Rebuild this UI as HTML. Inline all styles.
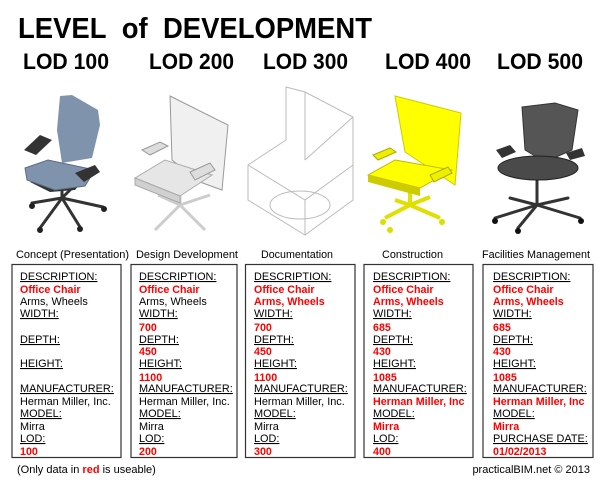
<!DOCTYPE html>
<html><head><meta charset="utf-8"><style>
body{margin:0;background:#fff;}
svg{display:block;font-family:"Liberation Sans",Arial,sans-serif;}
.lb{font-size:10.9px;fill:#000;text-decoration:underline;}
.bk{font-size:10.9px;fill:#000;}
.rd{font-size:10.7px;fill:#f00;font-weight:bold;}
.cap{font-size:11px;fill:#000;}
.h{font-size:22px;font-weight:bold;fill:#000;}
</style></head><body>
<svg width="605" height="483" viewBox="0 0 605 483">
<rect width="605" height="483" fill="#fff"/>
<text x="18" y="38" font-size="29" font-weight="bold" textLength="354" lengthAdjust="spacingAndGlyphs">LEVEL&#160;&#160;of&#160;&#160;DEVELOPMENT</text>
<text class="h" x="23" y="69" textLength="86" lengthAdjust="spacingAndGlyphs">LOD 100</text>
<text class="h" x="149" y="69" textLength="85" lengthAdjust="spacingAndGlyphs">LOD 200</text>
<text class="h" x="263" y="69" textLength="85" lengthAdjust="spacingAndGlyphs">LOD 300</text>
<text class="h" x="385" y="69" textLength="86" lengthAdjust="spacingAndGlyphs">LOD 400</text>
<text class="h" x="497" y="69" textLength="86" lengthAdjust="spacingAndGlyphs">LOD 500</text>

<!-- chair 1 -->
<g>
<g stroke="#333" stroke-width="3" stroke-linecap="round">
<line x1="62" y1="198" x2="32" y2="203"/><line x1="62" y1="198" x2="40" y2="228"/><line x1="62" y1="198" x2="80" y2="227"/><line x1="62" y1="198" x2="103" y2="207"/><line x1="62" y1="198" x2="72" y2="188"/><line x1="62" y1="198" x2="62" y2="182"/></g>
<g fill="#222"><circle cx="32" cy="206" r="3"/><circle cx="40" cy="230" r="3"/><circle cx="80" cy="229" r="3"/><circle cx="104" cy="209" r="3"/></g>
<path d="M60,96 L72,95 L98,110 L100,125 L92,158 L62,163 L57,130 Z" fill="#7f93ad"/>
<path d="M30,182 L50,192 L75,190 L85,178 L60,175 Z" fill="#333"/>
<path d="M25,168 L48,160 L95,170 L85,186 L55,190 L27,180 Z" fill="#7f93ad" stroke="#5d6d82" stroke-width="1"/>
<path d="M24,150 L40,135 L52,140 L36,155 Z M75,173 L95,165 L100,172 L84,182 Z" fill="#333"/>
</g>
<!-- chair 2 -->
<g>
<g stroke="#ccc" stroke-width="3"><line x1="180" y1="205" x2="155" y2="230"/><line x1="180" y1="205" x2="205" y2="230"/><line x1="180" y1="205" x2="158" y2="195"/><line x1="180" y1="205" x2="210" y2="195"/><line x1="180" y1="195" x2="180" y2="207"/></g>
<path d="M170,96 L228,125 L222,190 L200,182 L172,160 Z" fill="#f0f0f0" stroke="#999"/>
<path d="M135,178 L165,160 L212,175 L180,196 Z" fill="#e6e6e6" stroke="#aaa"/>
<path d="M135,178 L180,196 L180,203 L135,185 Z" fill="#d0d0d0" stroke="#aaa"/>
<path d="M142,150 L160,142 L168,146 L150,155 Z M190,172 L210,163 L215,170 L195,180 Z" fill="#ddd" stroke="#999"/>
</g>
<!-- chair 3 -->
<g fill="none" stroke="#bbb" stroke-width="1">
<path d="M286,87 L305,92 L353,117 L353,200 L305,235 L248,200 L248,165 L286,140 Z"/>
<path d="M305,92 L305,160 M286,87 L286,140 M305,160 L353,117 M248,165 L305,200 L353,165 M305,200 L305,235"/>
<ellipse cx="300" cy="205" rx="30" ry="14"/>
</g>
<!-- chair 4 -->
<g>
<g stroke="#e0e000" stroke-width="4"><line x1="410" y1="205" x2="385" y2="218"/><line x1="410" y1="205" x2="440" y2="218"/><line x1="410" y1="205" x2="395" y2="200"/><line x1="410" y1="205" x2="430" y2="197"/><line x1="410" y1="188" x2="410" y2="207"/></g>
<g fill="#dd0"><circle cx="383" cy="222" r="3"/><circle cx="442" cy="222" r="3"/><circle cx="390" cy="230" r="3"/></g>
<path d="M395,96 L461,113 L455,185 L440,175 L405,152 Z" fill="#ff0" stroke="#cc0"/>
<path d="M368,175 L395,160 L452,170 L420,188 Z" fill="#ff0" stroke="#bb0"/>
<path d="M368,175 L420,188 L420,196 L368,182 Z" fill="#cc0"/>
<path d="M373,155 L390,148 L396,152 L378,160 Z M430,175 L448,167 L452,173 L434,182 Z" fill="#ee0" stroke="#aa0"/>
</g>
<!-- chair 5 -->
<g>
<g stroke="#333" stroke-width="3" stroke-linecap="round"><line x1="537" y1="205" x2="495" y2="218"/><line x1="537" y1="205" x2="518" y2="228"/><line x1="537" y1="205" x2="580" y2="218"/><line x1="537" y1="205" x2="568" y2="198"/><line x1="537" y1="205" x2="510" y2="198"/><line x1="537" y1="178" x2="537" y2="205"/></g>
<g fill="#111"><circle cx="495" cy="221" r="3"/><circle cx="518" cy="231" r="3"/><circle cx="581" cy="221" r="3"/></g>
<path d="M522,107 L555,103 L578,110 L572,150 L545,162 L525,150 Z" fill="#555" stroke="#333"/>
<ellipse cx="538" cy="168" rx="40" ry="12" fill="#4a4a4a" stroke="#222"/>
<path d="M496,150 L510,145 L516,152 L502,158 Z M566,153 L582,148 L585,156 L570,160 Z" fill="#333"/>
</g>

<text class="cap" x="16" y="258" textLength="113" lengthAdjust="spacingAndGlyphs">Concept (Presentation)</text>
<text class="cap" x="136" y="258" textLength="102" lengthAdjust="spacingAndGlyphs">Design Development</text>
<text class="cap" x="261" y="258" textLength="72" lengthAdjust="spacingAndGlyphs">Documentation</text>
<text class="cap" x="382" y="258" textLength="61" lengthAdjust="spacingAndGlyphs">Construction</text>
<text class="cap" x="482" y="258" textLength="108" lengthAdjust="spacingAndGlyphs">Facilities Management</text>

<g fill="none" stroke="#333" stroke-width="1.2">
<rect x="12" y="264.5" width="109" height="193"/>
<rect x="131" y="264.5" width="106" height="193"/>
<rect x="245.5" y="264.5" width="109.5" height="193"/>
<rect x="364" y="264.5" width="109" height="193"/>
<rect x="483" y="264.5" width="110" height="193"/>
</g>

<g>
<text class="lb" x="20" y="280">DESCRIPTION:</text>
<text class="rd" x="20" y="293">Office Chair</text>
<text class="bk" x="20" y="305">Arms, Wheels</text>
<text class="lb" x="20" y="317">WIDTH:</text>
<text class="lb" x="20" y="343">DEPTH:</text>
<text class="lb" x="20" y="367">HEIGHT:</text>
<text class="lb" x="20" y="392">MANUFACTURER:</text>
<text class="bk" x="20" y="405">Herman Miller, Inc.</text>
<text class="lb" x="20" y="417">MODEL:</text>
<text class="bk" x="20" y="430">Mirra</text>
<text class="lb" x="20" y="442">LOD:</text>
<text class="rd" x="20" y="455">100</text>
</g>
<g>
<text class="lb" x="139" y="280">DESCRIPTION:</text>
<text class="rd" x="139" y="293">Office Chair</text>
<text class="bk" x="139" y="305">Arms, Wheels</text>
<text class="lb" x="139" y="317">WIDTH:</text>
<text class="rd" x="139" y="331">700</text>
<text class="lb" x="139" y="343">DEPTH:</text>
<text class="rd" x="139" y="355">450</text>
<text class="lb" x="139" y="367">HEIGHT:</text>
<text class="rd" x="139" y="381">1100</text>
<text class="lb" x="139" y="392">MANUFACTURER:</text>
<text class="bk" x="139" y="405">Herman Miller, Inc.</text>
<text class="lb" x="139" y="417">MODEL:</text>
<text class="bk" x="139" y="430">Mirra</text>
<text class="lb" x="139" y="442">LOD:</text>
<text class="rd" x="139" y="455">200</text>
</g>
<g>
<text class="lb" x="254" y="280">DESCRIPTION:</text>
<text class="rd" x="254" y="293">Office Chair</text>
<text class="rd" x="254" y="305">Arms, Wheels</text>
<text class="lb" x="254" y="317">WIDTH:</text>
<text class="rd" x="254" y="331">700</text>
<text class="lb" x="254" y="343">DEPTH:</text>
<text class="rd" x="254" y="355">450</text>
<text class="lb" x="254" y="367">HEIGHT:</text>
<text class="rd" x="254" y="381">1100</text>
<text class="lb" x="254" y="392">MANUFACTURER:</text>
<text class="bk" x="254" y="405">Herman Miller, Inc.</text>
<text class="lb" x="254" y="417">MODEL:</text>
<text class="bk" x="254" y="430">Mirra</text>
<text class="lb" x="254" y="442">LOD:</text>
<text class="rd" x="254" y="455">300</text>
</g>
<g>
<text class="lb" x="373" y="280">DESCRIPTION:</text>
<text class="rd" x="373" y="293">Office Chair</text>
<text class="rd" x="373" y="305">Arms, Wheels</text>
<text class="lb" x="373" y="317">WIDTH:</text>
<text class="rd" x="373" y="331">685</text>
<text class="lb" x="373" y="343">DEPTH:</text>
<text class="rd" x="373" y="355">430</text>
<text class="lb" x="373" y="367">HEIGHT:</text>
<text class="rd" x="373" y="381">1085</text>
<text class="lb" x="373" y="392">MANUFACTURER:</text>
<text class="rd" x="373" y="405">Herman Miller, Inc</text>
<text class="lb" x="373" y="417">MODEL:</text>
<text class="rd" x="373" y="430">Mirra</text>
<text class="lb" x="373" y="442">LOD:</text>
<text class="rd" x="373" y="455">400</text>
</g>
<g>
<text class="lb" x="493" y="280">DESCRIPTION:</text>
<text class="rd" x="493" y="293">Office Chair</text>
<text class="rd" x="493" y="305">Arms, Wheels</text>
<text class="lb" x="493" y="317">WIDTH:</text>
<text class="rd" x="493" y="331">685</text>
<text class="lb" x="493" y="343">DEPTH:</text>
<text class="rd" x="493" y="355">430</text>
<text class="lb" x="493" y="367">HEIGHT:</text>
<text class="rd" x="493" y="381">1085</text>
<text class="lb" x="493" y="392">MANUFACTURER:</text>
<text class="rd" x="493" y="405">Herman Miller, Inc</text>
<text class="lb" x="493" y="417">MODEL:</text>
<text class="rd" x="493" y="430">Mirra</text>
<text class="lb" x="493" y="442">PURCHASE DATE:</text>
<text class="rd" x="493" y="455">01/02/2013</text>
</g>

<text class="cap" x="17" y="473">(Only data in <tspan fill="#f00" font-weight="bold">red</tspan> is useable)</text>
<text class="cap" x="590" y="473" text-anchor="end">practicalBIM.net © 2013</text>
</svg>
</body></html>
